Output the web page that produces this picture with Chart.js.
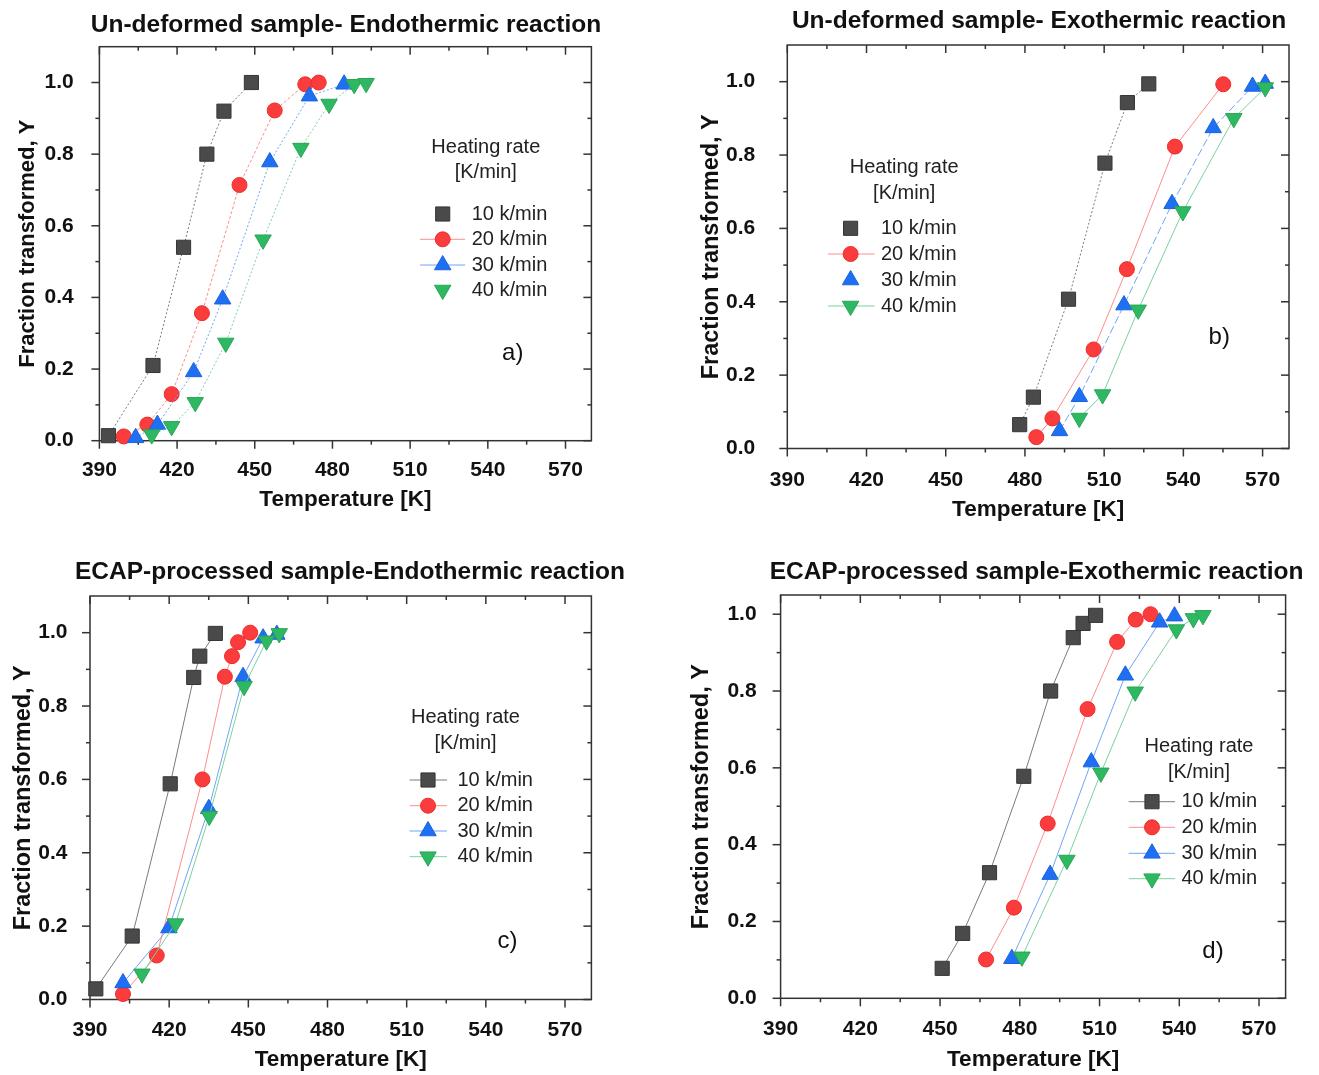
<!DOCTYPE html>
<html lang="en">
<head>
  <meta charset="UTF-8" />
  <title>Fraction transformed vs temperature</title>
  <script src="https://cdn.jsdelivr.net/npm/chart.js"></script>
  <style>
    body {
      margin: 0;
      background: #fff;
    }
    .panel {
      position: absolute;
    }
  </style>
</head>
<body>
  <canvas id="chartA" class="panel" width="660" height="530" style="left:0;top:0"></canvas>
  <canvas id="chartB" class="panel" width="659" height="530" style="left:660px;top:0"></canvas>
  <canvas id="chartC" class="panel" width="660" height="535" style="left:0;top:540px"></canvas>
  <canvas id="chartD" class="panel" width="659" height="535" style="left:660px;top:540px"></canvas>

  <script>
    const xTicks = [390, 420, 450, 480, 510, 540, 570];
    const xMinorTicks = [405, 435, 465, 495, 525, 555];
    const yTicks = [0, 0.2, 0.4, 0.6, 0.8, 1.0];
    const yMinorTicks = [0.1, 0.3, 0.5, 0.7, 0.9];
    const rateNames = ['10 k/min', '20 k/min', '30 k/min', '40 k/min'];

    // a) un-deformed sample, endothermic
    const aT10 = [393.5, 410.7, 422.5, 431.5, 438.1, 448.7];
    const aY10 = [0.014, 0.21, 0.54, 0.80, 0.92, 1.0];
    const aT20 = [399.4, 408.5, 417.9, 429.6, 444.1, 457.7, 469.5, 474.7];
    const aY20 = [0.012, 0.045, 0.13, 0.356, 0.714, 0.922, 0.995, 1.0];
    const aT30 = [404.0, 412.4, 426.4, 437.6, 455.8, 471.1, 484.5];
    const aY30 = [0.008, 0.045, 0.192, 0.395, 0.778, 0.962, 0.995];
    const aT40 = [410.2, 417.9, 427.0, 438.8, 453.2, 467.8, 478.7, 488.4, 493.0];
    const aY40 = [0.017, 0.04, 0.107, 0.273, 0.561, 0.817, 0.94, 0.995, 0.998];

    // b) un-deformed sample, exothermic
    const bT10 = [478.0, 483.2, 496.5, 510.3, 518.8, 526.9];
    const bY10 = [0.065, 0.14, 0.407, 0.778, 0.943, 0.994];
    const bT20 = [484.3, 490.4, 506.0, 518.6, 536.8, 555.1];
    const bY20 = [0.031, 0.082, 0.27, 0.489, 0.823, 0.993];
    const bT30 = [493.1, 500.6, 517.5, 535.7, 551.3, 566.2, 571.0];
    const bY30 = [0.048, 0.141, 0.391, 0.667, 0.874, 0.987, 0.995];
    const bT40 = [500.6, 509.4, 522.9, 539.8, 559.1, 571.0];
    const bY40 = [0.083, 0.147, 0.378, 0.646, 0.90, 0.984];

    // c) ECAP-processed sample, endothermic
    const cT10 = [392.2, 406.0, 420.4, 429.3, 431.6, 437.5];
    const cY10 = [0.029, 0.173, 0.588, 0.878, 0.936, 0.998];
    const cT20 = [402.5, 415.3, 432.6, 441.1, 443.8, 446.1, 450.7];
    const cY20 = [0.015, 0.12, 0.60, 0.88, 0.936, 0.974, 1.0];
    const cT30 = [402.5, 419.9, 435.0, 448.0, 455.6, 460.8];
    const cY30 = [0.045, 0.195, 0.52, 0.88, 0.985, 0.995];
    const cT40 = [409.7, 422.4, 435.2, 448.4, 456.9, 461.7];
    const cY40 = [0.07, 0.207, 0.50, 0.854, 0.978, 0.998];

    // d) ECAP-processed sample, exothermic
    const dT10 = [450.8, 458.5, 468.6, 481.5, 491.6, 500.1, 503.8, 508.5];
    const dY10 = [0.078, 0.169, 0.327, 0.578, 0.80, 0.939, 0.976, 0.997];
    const dT20 = [467.3, 477.8, 490.5, 505.5, 516.6, 523.6, 529.2];
    const dY20 = [0.101, 0.236, 0.455, 0.753, 0.928, 0.986, 1.0];
    const dT30 = [477.0, 491.4, 506.9, 519.7, 532.6, 538.2];
    const dY30 = [0.103, 0.322, 0.615, 0.841, 0.979, 0.995];
    const dT40 = [480.8, 497.7, 510.5, 523.4, 538.9, 545.3, 548.9];
    const dY40 = [0.108, 0.36, 0.587, 0.798, 0.96, 0.989, 0.997];

    const FONT = '"Liberation Sans", Arial, sans-serif';
    Chart.defaults.font.family = FONT;
    Chart.defaults.color = '#111';

    const seriesStyle = [
      { pointStyle: 'rect', radius: 10, rotation: 0, fill: '#4a4a4a', edge: '#363636', line: '#7a7a7a' },
      { pointStyle: 'circle', radius: 7.5, rotation: 0, fill: '#fb3c3c', edge: '#ee2b2b', line: '#ff8c8c' },
      { pointStyle: 'triangle', radius: 9.5, rotation: 0, fill: '#1f6ff2', edge: '#1963dd', line: '#70a5f5' },
      { pointStyle: 'triangle', radius: 9.5, rotation: 180, fill: '#2fb862', edge: '#27a656', line: '#7ad29d' }
    ];

    const panels = [
      {
        id: 'chartA', w: 660, h: 530,
        title: 'Un-deformed sample- Endothermic reaction', titleX: 346, titleY: 25,
        letter: 'a)', letterX: 512.7, letterY: 353.3,
        T: [aT10, aT20, aT30, aT40], Y: [aY10, aY20, aY30, aY40],
        dash: [[2, 2], [3, 2], [2, 2], [2, 2]],
        area: { l: 99.4, r: 591.4, t: 46.7, b: 440.7 }, yMax: 1.1,
        xTickPad: 9.2, yTickPad: 17.7, xTitlePad: 16.5, yTitleSize: 22, yTitlePad: 14.8,
        legend: { hx: 485.8, hy: [147.3, 172.7], mx: 442.7, lx: [420, 465], tx: 471.7,
                  rows: [214, 239.3, 265, 290], lines: [false, true, true, false] }
      },
      {
        id: 'chartB', w: 659, h: 530,
        title: 'Un-deformed sample- Exothermic reaction', titleX: 379, titleY: 21,
        letter: 'b)', letterX: 559.2, letterY: 337.7,
        T: [bT10, bT20, bT30, bT40], Y: [bY10, bY20, bY30, bY40],
        dash: [[2, 2], [], [8, 3], []],
        area: { l: 127.3, r: 629, t: 45, b: 448.5 }, yMax: 1.1,
        xTickPad: 10.9, yTickPad: 24, xTitlePad: 6.5, yTitleSize: 23.5, yTitlePad: 37.6,
        legend: { hx: 244.2, hy: [167.7, 193.3], mx: 190.6, lx: [168, 214.6], tx: 221,
                  rows: [228.3, 254, 280, 306], lines: [false, true, false, true] }
      },
      {
        id: 'chartC', w: 660, h: 535,
        title: 'ECAP-processed sample-Endothermic reaction', titleX: 350, titleY: 32,
        letter: 'c)', letterX: 507.6, letterY: 401.7,
        T: [cT10, cT20, cT30, cT40], Y: [cY10, cY20, cY30, cY40],
        dash: [[], [], [], []],
        area: { l: 90, r: 591.4, t: 56, b: 459.5 }, yMax: 1.1,
        xTickPad: 10.6, yTickPad: 14.5, xTitlePad: 1.5, yTitleSize: 23.5, yTitlePad: 9.2,
        legend: { hx: 465.5, hy: [177.7, 203.3], mx: 428, lx: [409.6, 447], tx: 457.4,
                  rows: [240, 265.7, 291, 316.7], lines: [true, true, true, true] }
      },
      {
        id: 'chartD', w: 659, h: 535,
        title: 'ECAP-processed sample-Exothermic reaction', titleX: 376.5, titleY: 32,
        letter: 'd)', letterX: 553, letterY: 411,
        T: [dT10, dT20, dT30, dT40], Y: [dY10, dY20, dY30, dY40],
        dash: [[], [], [], []],
        area: { l: 120.6, r: 625.6, t: 55, b: 458.3 }, yMax: 1.05,
        xTickPad: 10.5, yTickPad: 16, xTitlePad: 1.5, yTitleSize: 23.5, yTitlePad: 27.9,
        legend: { hx: 539, hy: [206.7, 232.3], mx: 492, lx: [468.7, 515], tx: 521.5,
                  rows: [261.7, 287.3, 313.3, 338.7], lines: [true, true, true, true] }
      }
    ];

    // frame + Origin-style ticks (out on bottom/left, in on top/right)
    const frameTicks = {
      id: 'frameTicks',
      beforeDatasetsDraw(chart) {
        const { ctx, chartArea: a, scales: { x, y } } = chart;
        const seg = (x1, y1, x2, y2) => { ctx.beginPath(); ctx.moveTo(x1, y1); ctx.lineTo(x2, y2); ctx.stroke(); };
        ctx.save();
        ctx.strokeStyle = '#333';
        ctx.lineWidth = 1.5;
        ctx.strokeRect(a.left, a.top, a.right - a.left, a.bottom - a.top);
        xTicks.forEach(v => {
          const px = x.getPixelForValue(v);
          seg(px, a.bottom, px, a.bottom + 8);
          seg(px, a.top, px, a.top + 8);
        });
        xMinorTicks.forEach(v => {
          const px = x.getPixelForValue(v);
          seg(px, a.bottom, px, a.bottom + 4);
          seg(px, a.top, px, a.top + 4);
        });
        yTicks.forEach(v => {
          const py = y.getPixelForValue(v);
          seg(a.left - 8, py, a.left, py);
          seg(a.right - 8, py, a.right, py);
        });
        yMinorTicks.forEach(v => {
          const py = y.getPixelForValue(v);
          seg(a.left - 4, py, a.left, py);
          seg(a.right - 4, py, a.right, py);
        });
        ctx.restore();
      }
    };

    // panel title, in-plot legend and panel letter
    const panelText = {
      id: 'panelText',
      afterDraw(chart, args, p) {
        const { ctx } = chart;
        const lg = p.legend;
        ctx.save();
        ctx.fillStyle = '#111';
        ctx.textBaseline = 'middle';
        ctx.textAlign = 'center';
        ctx.font = 'bold 24.5px ' + FONT;
        ctx.fillText(p.title, p.titleX, p.titleY);

        ctx.fillStyle = '#222';
        ctx.font = '20px ' + FONT;
        ctx.fillText('Heating rate', lg.hx, lg.hy[0]);
        ctx.fillText('[K/min]', lg.hx, lg.hy[1]);

        rateNames.forEach((name, i) => {
          const s = seriesStyle[i];
          const ry = lg.rows[i];
          if (lg.lines[i]) {
            ctx.strokeStyle = s.line;
            ctx.lineWidth = 1;
            ctx.beginPath();
            ctx.moveTo(lg.lx[0], ry);
            ctx.lineTo(lg.lx[1], ry);
            ctx.stroke();
          }
          ctx.fillStyle = s.fill;
          ctx.strokeStyle = s.edge;
          ctx.lineWidth = 1;
          Chart.helpers.drawPoint(ctx, { pointStyle: s.pointStyle, radius: s.radius, rotation: s.rotation, borderWidth: 1 }, lg.mx, ry);
          ctx.fillStyle = '#222';
          ctx.textAlign = 'left';
          ctx.fillText(name, lg.tx, ry);
        });

        ctx.textAlign = 'center';
        ctx.fillStyle = '#111';
        ctx.font = '24px ' + FONT;
        ctx.fillText(p.letter, p.letterX, p.letterY);
        ctx.restore();
      }
    };

    function drawPanel(p) {
      const datasets = p.T.map((T, i) => ({
        label: rateNames[i],
        data: T.map((t, k) => ({ x: t, y: p.Y[i][k] })),
        showLine: true,
        borderColor: seriesStyle[i].line,
        borderWidth: 1,
        borderDash: p.dash[i],
        pointStyle: seriesStyle[i].pointStyle,
        pointRotation: seriesStyle[i].rotation,
        pointRadius: seriesStyle[i].radius,
        pointHoverRadius: seriesStyle[i].radius,
        pointBackgroundColor: seriesStyle[i].fill,
        pointBorderColor: seriesStyle[i].edge,
        pointBorderWidth: 1,
        clip: false,
        order: 3 - i
      }));

      new Chart(document.getElementById(p.id), {
        type: 'scatter',
        data: { datasets },
        options: {
          responsive: false,
          animation: false,
          layout: { padding: { left: 0, top: p.area.t, right: p.w - p.area.r, bottom: 0 } },
          plugins: {
            legend: { display: false },
            tooltip: { enabled: false },
            panelText: p
          },
          scales: {
            x: {
              type: 'linear',
              min: 390,
              max: 580,
              grid: { display: false },
              border: { display: false },
              afterBuildTicks: s => { s.ticks = xTicks.map(v => ({ value: v })); },
              afterFit: s => { s.height = p.h - p.area.b; },
              ticks: {
                autoSkip: false,
                maxRotation: 0,
                padding: p.xTickPad,
                color: '#111',
                font: { size: 21, weight: 'bold' }
              },
              title: {
                display: true,
                text: 'Temperature [K]',
                color: '#111',
                font: { size: 22.5, weight: 'bold' },
                padding: { top: 0, bottom: p.xTitlePad }
              }
            },
            y: {
              type: 'linear',
              min: 0,
              max: p.yMax,
              grid: { display: false },
              border: { display: false },
              afterBuildTicks: s => { s.ticks = yTicks.map(v => ({ value: v })); },
              afterFit: s => { s.width = p.area.l; },
              ticks: {
                autoSkip: false,
                padding: p.yTickPad,
                color: '#111',
                font: { size: 21, weight: 'bold' },
                callback: v => v.toFixed(1)
              },
              title: {
                display: true,
                text: 'Fraction transformed, Y',
                color: '#111',
                font: { size: p.yTitleSize, weight: 'bold' },
                padding: { top: p.yTitlePad, bottom: 0 }
              }
            }
          }
        },
        plugins: [frameTicks, panelText]
      });
    }

    panels.forEach(drawPanel);
  </script>
</body>
</html>
